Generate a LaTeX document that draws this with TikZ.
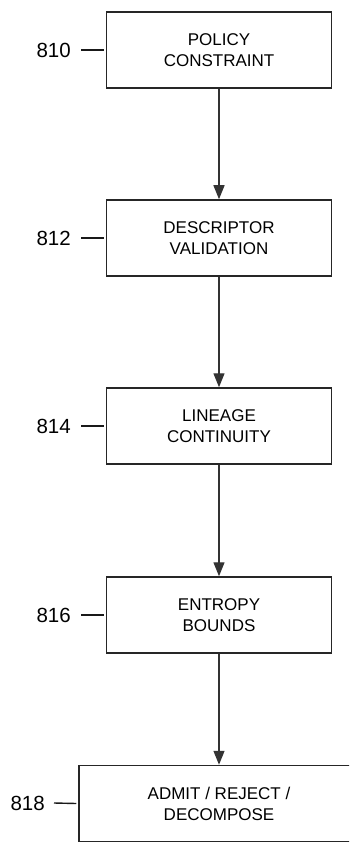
\documentclass[tikz,border=0pt]{standalone}
\usepackage{fontspec}
\setmainfont{Liberation Sans}
\usetikzlibrary{arrows.meta}

\tikzset{
  stepbox/.style={draw=black!85, line width=1.5pt, minimum width=225pt, minimum height=76pt,
    align=center, font=\fontsize{17}{21}\selectfont, inner sep=0pt},
  refnum/.style={anchor=east, inner sep=0pt, font=\fontsize{20.5}{24}\selectfont},
  flow/.style={draw=black!80, line width=1.4pt, -{Triangle[length=14pt,width=11pt]}},
  tick/.style={draw=black!90, line width=1.4pt}
}

\begin{document}
\begin{tikzpicture}[x=1pt, y=-1pt]
      \useasboundingbox (0,0) rectangle (349,842);
      \clip (0,0) rectangle (349,842);

      % Boxes
      \node[stepbox] (b810) at (219,50)  {POLICY\\CONSTRAINT};
      \node[stepbox] (b812) at (219,238) {DESCRIPTOR\\VALIDATION};
      \node[stepbox] (b814) at (219,426) {LINEAGE\\CONTINUITY};
      \node[stepbox] (b816) at (219,615) {ENTROPY\\BOUNDS};
      \node[stepbox, minimum width=280pt] (b818) at (219,803.5) {ADMIT / REJECT /\\DECOMPOSE};

      % Reference numerals
      \node[refnum] (l810) at (71,50)  {810};
      \node[refnum] (l812) at (71,238) {812};
      \node[refnum] (l814) at (71,426) {814};
      \node[refnum] (l816) at (71,615) {816};
      \node[refnum] (l818) at (45,803) {818};

      \draw[tick] ([xshift=10pt]l810.east) -- ([xshift=-2pt]b810.west);
      \draw[tick] ([xshift=10pt]l812.east) -- ([xshift=-2pt]b812.west);
      \draw[tick] ([xshift=10pt]l814.east) -- ([xshift=-2pt]b814.west);
      \draw[tick] ([xshift=10pt]l816.east) -- ([xshift=-2pt]b816.west);
      \draw[tick] ([xshift=9pt]l818.east) -- ([xshift=-2pt]b818.west);

      % Arrows
      \draw[flow] (b810) -- (b812);
      \draw[flow] (b812) -- (b814);
      \draw[flow] (b814) -- (b816);
      \draw[flow] (b816) -- (b818);
\end{tikzpicture}
\end{document}
